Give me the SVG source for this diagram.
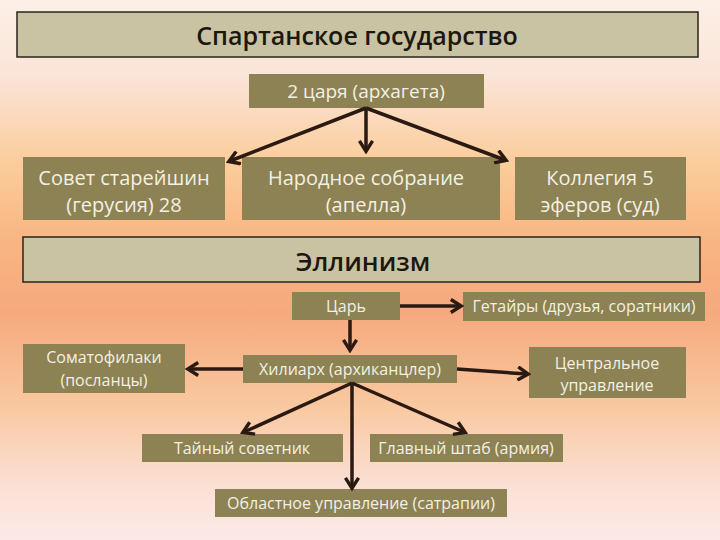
<svg xmlns="http://www.w3.org/2000/svg" width="720" height="540" viewBox="0 0 720 540">
<defs>
<linearGradient id="bg" x1="0" y1="0" x2="0" y2="1">
<stop offset="0" stop-color="#fcf0e6"/>
<stop offset="0.14" stop-color="#fbe4d8"/>
<stop offset="0.3" stop-color="#fbcd9c"/>
<stop offset="0.45" stop-color="#f8b582"/>
<stop offset="0.58" stop-color="#f6a97e"/>
<stop offset="0.75" stop-color="#f9c8a0"/>
<stop offset="0.9" stop-color="#fbe0d4"/>
<stop offset="1" stop-color="#fce9e8"/>
</linearGradient>
<marker id="ah" viewBox="0 0 12 12" refX="9" refY="6" markerWidth="4.5" markerHeight="4.5" orient="auto" markerUnits="strokeWidth">
<path d="M2,1 L10,6 L2,11" fill="none" stroke="#2b1a12" stroke-width="2.6" stroke-linejoin="miter"/>
</marker>
<style>
.hdr{fill:#c9c3a3;stroke:#2a2418;stroke-width:1.5}
.box{fill:#8c8254}
.ht{font-family:"Open Sans","Liberation Sans",sans-serif;font-weight:600;fill:#1c1810;text-anchor:middle}
.bt{font-family:"Open Sans","Liberation Sans",sans-serif;fill:#f4f0e2;text-anchor:middle}
.c{stroke:#2b1a12;stroke-width:3.5;fill:none;marker-end:url(#ah)}
</style>
</defs>
<rect width="720" height="540" fill="url(#bg)"/>

<g id="title1"><rect class="hdr" x="17" y="12" width="681" height="45"/><text class="ht" x="357" y="45" font-size="25">Спартанское государство</text></g>
<g id="kings"><rect class="box" x="249" y="74" width="235" height="34"/><text class="bt" x="366" y="98" font-size="19">2 царя (архагета)</text></g>
<g id="gerousia"><rect class="box" x="23" y="157" width="202" height="63"/><text class="bt" x="124" y="185" font-size="20">Совет старейшин</text><text class="bt" x="124" y="212" font-size="20">(герусия) 28</text></g>
<g id="apella"><rect class="box" x="242" y="157" width="258" height="63"/><text class="bt" x="366" y="185" font-size="20">Народное собрание</text><text class="bt" x="366" y="212" font-size="20">(апелла)</text></g>
<g id="ephors"><rect class="box" x="515" y="157" width="171" height="63"/><text class="bt" x="600" y="185" font-size="20">Коллегия 5</text><text class="bt" x="600" y="212" font-size="20">эферов (суд)</text></g>

<g id="title2"><rect class="hdr" x="23" y="237" width="677" height="45"/><text class="ht" x="363" y="271" font-size="26">Эллинизм</text></g>
<g id="king"><rect class="box" x="292" y="292" width="108" height="28"/><text class="bt" x="346" y="312" font-size="16">Царь</text></g>
<g id="hetairoi"><rect class="box" x="463" y="292" width="242" height="29"/><text class="bt" x="584" y="312" font-size="16">Гетайры (друзья, соратники)</text></g>
<g id="somatophylakes"><rect class="box" x="23" y="344" width="162" height="49"/><text class="bt" x="104" y="363" font-size="16">Соматофилаки</text><text class="bt" x="104" y="386" font-size="16">(посланцы)</text></g>
<g id="chiliarch"><rect class="box" x="243" y="355" width="214" height="28"/><text class="bt" x="350" y="375" font-size="16">Хилиарх (архиканцлер)</text></g>
<g id="central"><rect class="box" x="529" y="347" width="157" height="51"/><text class="bt" x="607" y="369" font-size="16">Центральное</text><text class="bt" x="607" y="391" font-size="16">управление</text></g>
<g id="secret"><rect class="box" x="142" y="434" width="201" height="28"/><text class="bt" x="242" y="454" font-size="16">Тайный советник</text></g>
<g id="staff"><rect class="box" x="370" y="434" width="193" height="28"/><text class="bt" x="466" y="454" font-size="16">Главный штаб (армия)</text></g>
<g id="regional"><rect class="box" x="215" y="489" width="292" height="28"/><text class="bt" x="361" y="509" font-size="16">Областное управление (сатрапии)</text></g>

<g id="connectors">
<line class="c" x1="366" y1="108" x2="230" y2="161"/>
<line class="c" x1="366" y1="108" x2="366" y2="150"/>
<line class="c" x1="366" y1="108" x2="505" y2="160"/>
<line class="c" x1="400" y1="306" x2="460" y2="306"/>
<line class="c" x1="350" y1="320" x2="350" y2="349"/>
<line class="c" x1="243" y1="369" x2="189" y2="369"/>
<line class="c" x1="457" y1="369" x2="527" y2="374"/>
<line class="c" x1="352" y1="383" x2="244" y2="432"/>
<line class="c" x1="352" y1="383" x2="464" y2="432"/>
<line class="c" x1="352" y1="383" x2="352" y2="487"/>
</g>
</svg>
